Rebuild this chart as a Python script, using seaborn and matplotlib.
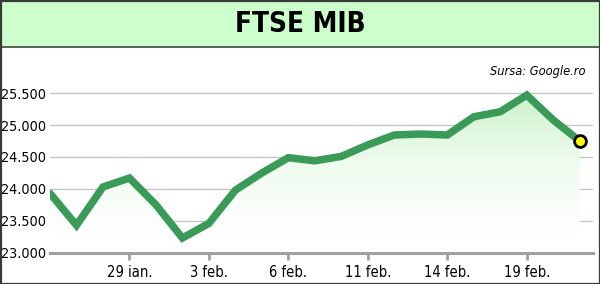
import numpy as np
import pandas as pd
import matplotlib
matplotlib.use("Agg")
import matplotlib.pyplot as plt
from matplotlib.patches import Rectangle
from matplotlib.lines import Line2D
from matplotlib.colors import LinearSegmentedColormap
import seaborn as sns

# ---- data ----
dates = ["24 ian.", "27 ian.", "28 ian.", "29 ian.", "30 ian.", "31 ian.", "3 feb.",
         "4 feb.", "5 feb.", "6 feb.", "7 feb.", "10 feb.", "11 feb.", "12 feb.",
         "13 feb.", "14 feb.", "17 feb.", "18 feb.", "19 feb.", "20 feb.", "21 feb."]
values = [23930, 23430, 24030, 24170, 23750, 23230, 23460, 23980, 24250, 24490,
          24440, 24510, 24690, 24845, 24860, 24845, 25130, 25210, 25470, 25080, 24750]
tick_labels = ["29 ian.", "3 feb.", "6 feb.", "11 feb.", "14 feb.", "19 feb."]
y_ticks = [23000, 23500, 24000, 24500, 25000, 25500]
y_tick_labels = ["23.000", "23.500", "24.000", "24.500", "25.000", "25.500"]

df = pd.DataFrame({"idx": np.arange(len(values)), "value": values, "date": dates})

sns.set_style("white")
plt.rcParams["font.family"] = ["DejaVu Sans"]
plt.rcParams["font.stretch"] = "condensed"

W, H = 600, 284
fig = plt.figure(figsize=(W / 100, H / 100), dpi=100)
fig.patch.set_facecolor("white")

# title band
band_h = 47
fig.patches.append(Rectangle((0, 1 - band_h / H), 1, band_h / H, transform=fig.transFigure,
                             facecolor="#ccffcc", edgecolor="none", zorder=0))
fig.lines.append(Line2D([0, 1], [1 - band_h / H, 1 - band_h / H], transform=fig.transFigure,
                        color="#3a4a3a", lw=1.2))
fig.text(0.5, 1 - 24 / H, "FTSE MIB", ha="center", va="center", fontsize=20,
         fontweight="bold", color="black", fontstretch="condensed")

ax_left, ax_right = 50, 593
ax_bottom, ax_top = 252.7, 61.3
ax = fig.add_axes([ax_left / W, (H - ax_bottom) / H, (ax_right - ax_left) / W,
                   (ax_bottom - ax_top) / H])
ax.set_facecolor("none")
ax.set_xlim(0, 20.5)
ax.set_ylim(23000, 26000)

# gridlines
for yv in y_ticks[1:]:
    ax.axhline(yv, color="#c4c4c4", lw=1.0, zorder=1)

# gradient fill under the line
x = df["idx"].to_numpy()
y = df["value"].to_numpy()
poly = ax.fill_between(x, y, 23000, color="none", lw=0)
cmap = LinearSegmentedColormap.from_list("g", ["#ffffff", "#eefbee", "#cbf2cb"])
grad = np.linspace(0, 1, 256).reshape(-1, 1)
img = ax.imshow(grad, cmap=cmap, aspect="auto", origin="lower",
                extent=[x.min(), x.max(), 23300, 25500], zorder=1.5)
path = poly.get_paths()[0]
img.set_clip_path(path, transform=ax.transData)

sns.lineplot(data=df, x="idx", y="value", ax=ax, color="#3a9a58", lw=5.4,
             solid_joinstyle="miter", zorder=3)
ax.plot([x[-1]], [y[-1]], marker="o", ms=8.5, mfc="#ffff00", mec="black", mew=2.0,
        zorder=4, clip_on=False)

ax.set_xlabel("")
ax.set_ylabel("")
for s in ["top", "right", "left"]:
    ax.spines[s].set_visible(False)
ax.spines["bottom"].set_color("#a0a0a0")
ax.spines["bottom"].set_linewidth(2.2)
ax.spines["bottom"].set_zorder(5)

ax.set_xticks([3, 6, 9, 12, 15, 18])
ax.set_xticklabels(tick_labels, fontstretch="condensed")
ax.tick_params(axis="x", length=5, width=2, color="#a0a0a0", pad=4, labelsize=10.5,
               labelcolor="black", bottom=True)
ax.set_yticks(y_ticks)
ax.set_yticklabels(y_tick_labels, fontstretch="condensed")
ax.tick_params(axis="y", length=0, pad=3, labelsize=10.3, labelcolor="black")

fig.text(585 / W, 1 - 71 / H, "Sursa: Google.ro", ha="right", va="center",
         fontsize=9.2, fontstyle="italic", color="black", fontstretch="condensed")

# outer border
fig.patches.append(Rectangle((0.5 / W, 0.5 / H), 1 - 1 / W, 1 - 1 / H,
                             transform=fig.transFigure, facecolor="none",
                             edgecolor="#3a3a3a", lw=1.6, zorder=10))

fig.savefig("out.png", dpi=100)
